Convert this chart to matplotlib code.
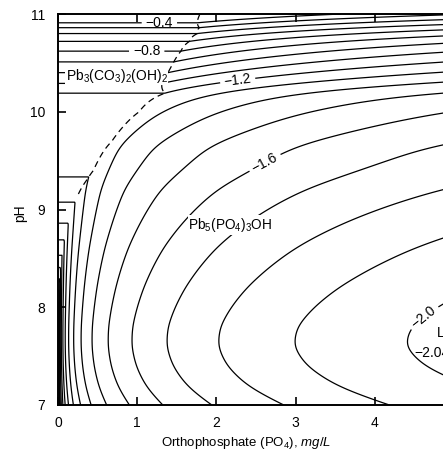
import numpy as np
import matplotlib.pyplot as plt

plt.rcParams['font.family'] = ['Liberation Sans', 'DejaVu Sans']
plt.rcParams['mathtext.fontset'] = 'custom'
plt.rcParams['mathtext.rm'] = 'Liberation Sans'
plt.rcParams['mathtext.it'] = 'Liberation Sans:italic'
plt.rcParams['lines.dashed_pattern'] = [5, 3.5]

# contour levels (log Pb, mg/L)
levels = [-2.04, -2.0, -1.9, -1.8, -1.7, -1.6, -1.5, -1.4, -1.3, -1.2,
          -1.1, -1.0, -0.9, -0.8, -0.7, -0.6, -0.5, -0.4]
label_levels = [-2.0, -1.6, -1.2, -0.8, -0.4]
# where the labels sit (PO4, pH)
label_pos = [(4.6, 7.92), (2.7, 9.35), (2.28, 10.25), (1.12, 10.61), (1.28, 10.91)]

# Pb5(PO4)3OH control: log Pb = phos_base(pH) - phos_slope(pH) * log10(PO4)
phos_ph = [7.0, 7.2, 7.4, 7.6, 7.8, 8.0, 8.2, 8.4, 8.6, 8.8, 9.0, 9.2, 9.4,
           9.64, 9.92, 10.0, 10.19, 10.29, 10.40, 10.51, 10.62, 10.72, 10.80,
           10.86, 10.91, 10.96, 11.0]
phos_base = [-1.527, -1.574, -1.604, -1.619, -1.616, -1.600, -1.580, -1.556, -1.530,
             -1.500, -1.470, -1.440, -1.400, -1.356, -1.266, -1.238, -1.148, -1.034,
             -0.920, -0.806, -0.692, -0.580, -0.469, -0.362, -0.257, -0.152, -0.068]
slope_ph = [7.0, 8.0, 8.8, 9.4, 10.0, 10.4, 10.8, 11.0]
phos_slope = [0.60, 0.59, 0.56, 0.51, 0.52, 0.56, 0.60, 0.60]

# Pb3(CO3)2(OH)2 control: log Pb vs pH only
carb_ph = [7.0, 8.0, 8.5, 8.8, 9.0, 9.2, 9.3, 9.4, 9.7, 10.0, 10.19,
           10.29, 10.40, 10.51, 10.62, 10.72, 10.80, 10.86, 10.91, 10.96, 11.0]
carb_logpb = [0.6, -0.35, -0.78, -0.97, -1.07, -1.15, -1.19, -1.22, -1.25, -1.24, -1.20,
              -1.10, -1.00, -0.90, -0.80, -0.70, -0.60, -0.50, -0.40, -0.30, -0.22]

xticks = [0, 1, 2, 3, 4]
yticks = [7, 8, 9, 10, 11]

P = np.linspace(0.002, 5.6, 700)
pH = np.linspace(7, 11, 801)
PP, HH = np.meshgrid(P, pH)


def smooth(y, width):
    # gaussian smoothing along pH so the lines have no corners
    n = 60
    k = np.exp(-0.5 * (np.arange(-n, n + 1) * (pH[1] - pH[0]) / width) ** 2)
    k /= k.sum()
    return np.convolve(np.pad(y, n, mode='reflect', reflect_type='odd'), k, mode='valid')


base = smooth(np.interp(pH, phos_ph, phos_base), 0.07)
slope = smooth(np.interp(pH, slope_ph, phos_slope), 0.2)

phos = base[:, None] - slope[:, None] * np.log10(PP)
carb = np.interp(HH, carb_ph, carb_logpb)
logpb = np.minimum(phos, carb)
edge = np.where(HH > 9.15, carb - phos, np.nan)

fig = plt.figure(figsize=(4.43, 4.55), dpi=100)
ax = fig.add_axes([58 / 443, 50 / 455, 443.5 / 443, 391 / 455])

plain = sorted(lv for lv in levels if lv not in label_levels)
ax.contour(PP, HH, logpb, levels=plain, colors='k', linewidths=0.9,
           linestyles='solid')
cs = ax.contour(PP, HH, logpb, levels=sorted(label_levels), colors='k',
                linewidths=0.9, linestyles='solid')
ax.contour(PP, HH, edge, levels=[0], colors='k', linewidths=0.9,
           linestyles='dashed')

fmt = {lv: '\u2212%.1f' % abs(lv) for lv in levels}
ax.clabel(cs, fmt=fmt, manual=label_pos, inline=True,
          fontsize=10, inline_spacing=4)

ax.text(4.5, 7.53, '\u22122.04', fontsize=10, ha='left', va='center')
ax.text(4.78, 7.74, 'L', fontsize=10, ha='left', va='center')

box = dict(facecolor='white', edgecolor='none', pad=0.5)
ax.text(0.74, 10.37, 'Pb$_3$(CO$_3$)$_2$(OH)$_2$', fontsize=10,
        ha='center', va='center', bbox=box)
ax.text(2.18, 8.84, 'Pb$_5$(PO$_4$)$_3$OH', fontsize=9.8,
        ha='center', va='center', bbox=box)

ax.set_xlim(0, 5.6)
ax.set_ylim(7, 11)
ax.set_xticks(xticks)
ax.set_yticks(yticks)
ax.tick_params(direction='in', length=6, width=1.2, top=True, right=False,
               labelsize=10)
ax.tick_params(axis='x', pad=8)
ax.tick_params(axis='y', pad=9)
for s in ax.spines.values():
    s.set_linewidth(1.4)

fig.text(246 / 443, 1 - 443 / 455, 'Orthophosphate (PO$_4$), $mg/L$',
         fontsize=9.5, ha='center', va='center')
fig.text(20 / 443, 1 - 213 / 455, 'pH', fontsize=10, rotation=90,
         ha='center', va='center')

fig.savefig('out.png', dpi=100)
